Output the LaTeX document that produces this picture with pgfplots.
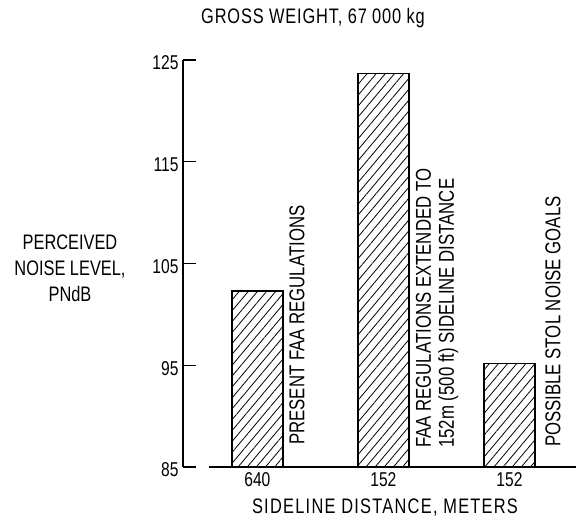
\documentclass[border=0pt]{standalone}
\usepackage{fontspec}
\setmainfont{Liberation Sans}[FakeStretch=0.78]
\usepackage{pgfplots}
\pgfplotsset{compat=1.18}
\usetikzlibrary{patterns.meta}
\begin{document}
\begin{tikzpicture}[x=1pt,y=1pt]
\path[use as bounding box] (-183,-55) rectangle (393,467);
\begin{axis}[at={(0,0)}, anchor=south west, scale only axis,
  width=392pt, height=407pt,
  xmin=-0.59, xmax=2.52, ymin=85, ymax=125,
  axis x line*=bottom, axis y line*=left,
  x axis line style={draw=none},
  y axis line style={-, line width=1.1pt},
  ytick={85,95,105,115,125},
  xtick={0,1,2}, xticklabels={640,152,152},
  tick align=inside, major tick length=13pt,
  x tick style={draw=none},
  y tick style={line width=1.1pt, black},
  /pgf/number format/assume math mode=true,
  yticklabel style={font=\fontsize{20}{24}\selectfont, xshift=-1pt, yshift=-3pt},
  xticklabel style={font=\fontsize{20}{24}\selectfont, yshift=-2pt},
]
\addplot[ybar, bar width=51pt, bar shift=0pt, draw=black, line width=1.3pt,
  pattern={Lines[angle=50,distance=7pt,line width=0.8pt]}]
  coordinates {(0,102.3) (1,123.7) (2,95.2)};
\end{axis}
\draw[line width=1.3pt] (26,0) -- (393,0);
\node[font=\fontsize{21}{24}\selectfont\addfontfeature{LetterSpace=4}] at (130,449) {GROSS WEIGHT, 67 000 kg};
\node[font=\fontsize{21}{26}\selectfont, align=center] at (-113,199) {PERCEIVED\\NOISE LEVEL,\\PNdB};
\node[font=\fontsize{21}{24}\selectfont\addfontfeature{LetterSpace=6}] at (202,-41) {SIDELINE DISTANCE, METERS};
\node[font=\fontsize{21.5}{23}\selectfont, rotate=90, anchor=west, inner sep=0pt] at (114,22) {PRESENT FAA REGULATIONS};
\node[font=\fontsize{21.5}{23}\selectfont, rotate=90, anchor=west, inner sep=0pt, align=left] at (254,19) {FAA REGULATIONS EXTENDED TO\\152m (500 ft) SIDELINE DISTANCE};
\node[font=\fontsize{21.5}{23}\selectfont, rotate=90, anchor=west, inner sep=0pt] at (370,20) {POSSIBLE STOL NOISE GOALS};
\end{tikzpicture}
\end{document}
